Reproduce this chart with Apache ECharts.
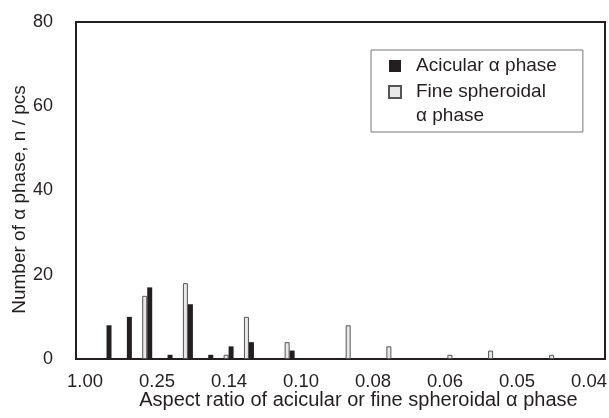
<!DOCTYPE html>
<html>

<head>
    <meta charset="utf-8" />
    <script src="https://cdn.jsdelivr.net/npm/echarts@6/dist/echarts.min.js"></script>
</head>

<body style="margin:0">
    <div id="main" style="width: 609px;height:418px;"></div>
    <script type="text/javascript">
        // 26 bins along the aspect-ratio axis
        const bins = ['1', '2', '3', '4', '5', '6', '7', '8', '9', '10', '11', '12', '13',
            '14', '15', '16', '17', '18', '19', '20', '21', '22', '23', '24', '25', '26'];
        const acicular = [0, 8, 10, 17, 1, 13, 1, 3, 4, 0, 2, 0, 0,
            0, 0, 0, 0, 0, 0, 0, 0, 0, 0, 0, 0, 0];
        const fine = [0, 0, 0, 15, 0, 18, 0, 1, 10, 0, 4, 0, 0,
            8, 0, 3, 0, 0, 1, 0, 2, 0, 0, 1, 0, 0];
        const ratioLabels = ['1.00', '0.25', '0.14', '0.10', '0.08', '0.06', '0.05', '0.04'];

        const acicularName = 'Acicular α phase';
        const fineName = 'Fine spheroidal α phase';

        const font = 'Liberation Sans, Arial, sans-serif';
        const ink = '#231f20';

        // zero bins are left empty so no outline is drawn on the axis
        const noZero = arr => arr.map(v => (v === 0 ? '-' : v));

        const myChart = echarts.init(document.getElementById('main'), null, { renderer: 'canvas' });

        const option = {
            animation: false,
            textStyle: { fontFamily: font, color: ink },
            grid: [
                {
                    left: 76, right: 4, top: 22, bottom: 59, show: true, borderColor: ink, borderWidth: 2,
                    containLabel: false, outerBoundsMode: 'none'
                },
                { left: 85, right: 20, top: 22, bottom: 59, containLabel: false, outerBoundsMode: 'none' }
            ],
            legend: {
                orient: 'vertical',
                left: 371,
                top: 50,
                padding: [4, 26, 4, 17],
                itemWidth: 12,
                itemHeight: 12,
                itemGap: -22,
                icon: 'rect',
                borderColor: '#777',
                borderWidth: 1,
                data: [acicularName, fineName],
                // second entry wraps; an empty first line keeps the icon beside "Fine spheroidal"
                formatter: function (name) {
                    if (name === fineName) {
                        return '{e| }\n{t|Fine spheroidal}\n{t|α phase}';
                    }
                    return '{t|' + name + '}';
                },
                textStyle: {
                    fontSize: 19,
                    color: ink,
                    fontFamily: font,
                    lineHeight: 24,
                    rich: {
                        t: { fontSize: 19, color: ink, fontFamily: font, lineHeight: 24, padding: [0, 0, 0, 10] },
                        e: { fontSize: 19, lineHeight: 24 }
                    }
                }
            },
            xAxis: [
                {
                    type: 'category',
                    data: bins,
                    gridIndex: 0,
                    axisLine: { lineStyle: { color: ink, width: 2 } },
                    axisTick: { inside: true, length: 3, lineStyle: { color: ink, width: 1 } },
                    axisLabel: { show: false },
                    name: 'Aspect ratio of acicular or fine spheroidal α phase',
                    nameLocation: 'middle',
                    nameGap: 31,
                    nameMoveOverlap: false,
                    nameTextStyle: { fontSize: 20, color: ink, padding: [0, 0, 0, 36] }
                },
                {
                    type: 'category',
                    data: ratioLabels,
                    gridIndex: 1,
                    boundaryGap: false,
                    axisLine: { show: false },
                    axisTick: { show: false },
                    axisLabel: { fontSize: 18.5, color: ink, margin: 13, interval: 0 }
                }
            ],
            yAxis: [
                {
                    type: 'value',
                    gridIndex: 0,
                    min: 0,
                    max: 80,
                    interval: 20,
                    axisLine: { show: true, lineStyle: { color: ink, width: 2 } },
                    axisTick: { show: false },
                    splitLine: { show: false },
                    axisLabel: { fontSize: 18, color: ink, margin: 23 },
                    name: 'Number of α phase, n / pcs',
                    nameLocation: 'middle',
                    nameGap: 47,
                    nameMoveOverlap: false,
                    nameTextStyle: { fontSize: 19, color: ink, padding: [0, 18, 0, 0] }
                },
                { type: 'value', gridIndex: 1, show: false }
            ],
            series: [
                {
                    name: fineName,
                    type: 'bar',
                    xAxisIndex: 0,
                    yAxisIndex: 0,
                    data: noZero(fine),
                    barWidth: 5,
                    barGap: '0%',
                    itemStyle: { color: '#e8e8e8', borderColor: '#555', borderWidth: 1 }
                },
                {
                    name: acicularName,
                    type: 'bar',
                    xAxisIndex: 0,
                    yAxisIndex: 0,
                    data: noZero(acicular),
                    barWidth: 5,
                    barGap: '0%',
                    itemStyle: { color: ink }
                }
            ]
        };

        myChart.setOption(option);
        window.addEventListener('resize', myChart.resize);
    </script>
</body>

</html>
